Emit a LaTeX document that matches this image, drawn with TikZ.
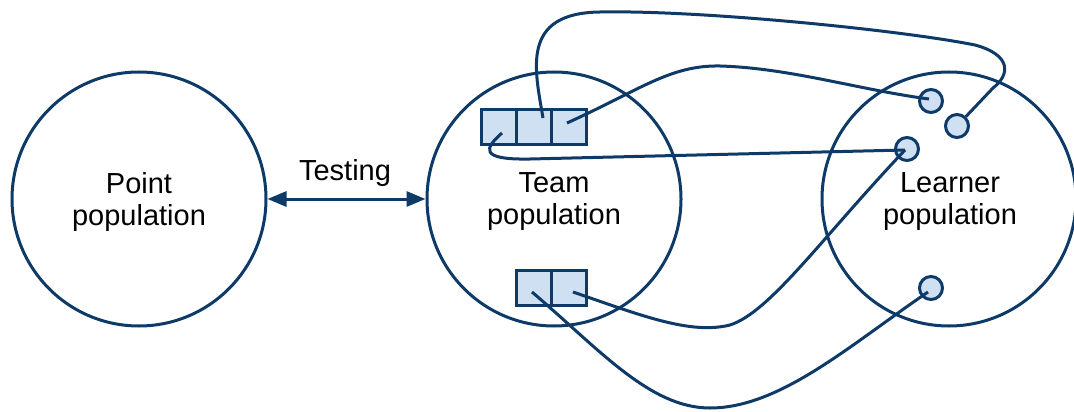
\documentclass[tikz,border=0pt]{standalone}
\usepackage{fontspec}
\setmainfont{Liberation Sans}
\usetikzlibrary{arrows.meta}
\definecolor{navy}{RGB}{14,58,104}
\definecolor{lightfill}{RGB}{207,224,242}
\begin{document}
\begin{tikzpicture}[x=1pt,y=-1pt,
  pop/.style={circle,draw=navy,line width=3pt,minimum size=254pt,inner sep=0pt},
  poptext/.style={align=center,font=\fontsize{29}{32}\selectfont},
  cell/.style={rectangle,draw=navy,fill=lightfill,line width=3pt,minimum width=35pt,minimum height=35pt,inner sep=0pt},
  learner/.style={circle,draw=navy,fill=lightfill,line width=3pt,minimum size=23pt,inner sep=0pt},
  link/.style={draw=navy,line width=3pt},
  lbl/.style={font=\fontsize{29}{32}\selectfont}]
\useasboundingbox (0,0) rectangle (1074,412);
\node[pop] (point) at (139,199) {};
\node[pop] (team) at (554,199) {};
\node[pop] (learn) at (949,199) {};
\node[poptext] (pointtxt) at (139,202) {Point\\population};
\node[poptext] (teamtxt) at (554,202) {Team\\population};
\node[poptext] (learntxt) at (950,202) {Learner\\population};
\draw[link,{Triangle[length=19pt,width=15pt]}-{Triangle[length=19pt,width=15pt]}] (point) -- (team);
\node[lbl] (testing) at (345,173) {Testing};
% team cells
\node[cell] (t1) at (499,127) {};
\node[cell] (t2) at (534,127) {};
\node[cell] (t3) at (569,127) {};
\node[cell] (b1) at (534,288) {};
\node[cell] (b2) at (569,288) {};
% learners
\node[learner] (l1) at (931,101) {};
\node[learner] (l2) at (957,126) {};
\node[learner] (l3) at (907,149) {};
\node[learner] (l4) at (931,288) {};
% start points
\coordinate (s1) at (502,133);
\coordinate (s2) at (543,118);
\coordinate (s3) at (567,123);
\coordinate (s4) at (532,292);
\coordinate (s5) at (573,292);
\coordinate (e1) at (905,150);
\coordinate (e3) at (929,99);
\coordinate (e4) at (928,292);
% connectors
\draw[link] (s1) .. controls (485,148) and (478,160) .. (530,159) -- (e1);
\draw[link] (s2) .. controls (535,70) and (520,13) .. (600,12) .. controls (700,10) and (900,30) .. (975,45) .. controls (1012,55) and (1010,75) .. (993,88) -- (l2);
\draw[link] (s3) .. controls (640,90) and (670,65) .. (720,66) .. controls (790,68) and (860,90) .. (e3);
\draw[link] (s4) .. controls (600,350) and (650,408) .. (710,408) .. controls (780,408) and (850,345) .. (e4);
\draw[link] (s5) .. controls (640,315) and (690,335) .. (730,325) .. controls (770,312) and (820,240) .. (e1);
\end{tikzpicture}
\end{document}
